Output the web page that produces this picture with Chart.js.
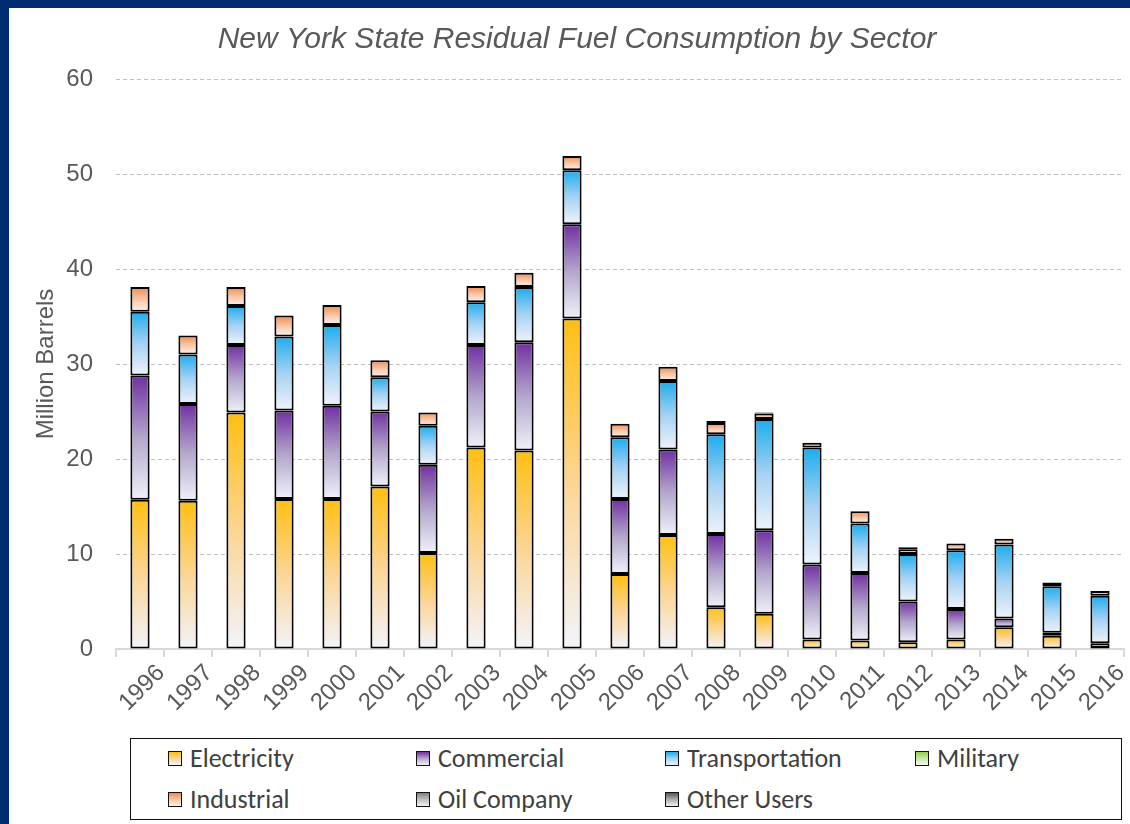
<!DOCTYPE html>
<html>
<head>
<meta charset="utf-8">
<script src="https://cdn.jsdelivr.net/npm/chart.js@4"></script>
<style>
html,body{margin:0;padding:0;}
body{width:1130px;height:824px;background:#002d72;position:relative;overflow:hidden;font-family:"Liberation Sans",Arial,sans-serif;}
#panel{position:absolute;left:9px;top:8px;width:1121px;height:816px;background:#fff;overflow:hidden;}
#wrap{position:absolute;left:0;top:0;width:1121px;height:722px;}
#legend{position:absolute;left:121px;top:730px;width:992px;height:82px;border:1.5px solid #111;box-sizing:border-box;background:#fff;}
.item{position:absolute;height:30px;display:flex;align-items:center;font-size:26px;color:#404040;white-space:nowrap;font-family:"Carlito","Liberation Sans",Arial,sans-serif;}
.sw{width:12px;height:13px;border:1.5px solid #111;margin-right:8px;flex:none;}
</style>
</head>
<body>
<div id="panel">
  <div id="wrap"><canvas id="c" width="1121" height="722"></canvas></div>
  <div id="legend"></div>
</div>
<script>
const years = ["1996","1997","1998","1999","2000","2001","2002","2003","2004","2005","2006","2007","2008","2009","2010","2011","2012","2013","2014","2015","2016"];
const electricity    = [15.7,15.6,24.9,15.8,15.8,17.1,10.1,21.2,20.9,34.8,7.9,12.0,4.4,3.7,1.0,0.9,0.7,1.0,2.3,1.4,0.1];
const commercial     = [13.1,10.2,7.1,9.3,9.8,7.9,9.3,10.8,11.4,9.9,7.9,9.0,7.7,8.8,7.9,7.1,4.3,3.2,0.9,0.3,0.5];
const transportation = [6.7,5.2,4.1,7.8,8.5,3.6,4.1,4.5,5.8,5.7,6.5,7.2,10.5,11.7,12.3,5.2,5.0,6.2,7.8,4.9,5.0];
const military       = [0,0,0,0,0,0,0,0,0,0,0,0,0,0,0,0,0,0,0,0,0];
const industrial     = [2.6,2.0,2.0,2.2,2.1,1.8,1.4,1.7,1.5,1.5,1.4,1.5,1.2,0.6,0.5,1.3,0.5,0.7,0.6,0.4,0.5];
const oilCompany     = [0,0,0,0,0,0,0,0,0,0,0,0,0,0,0,0,0,0,0,0,0];
const otherUsers     = [0,0,0,0,0,0,0,0,0,0,0,0,0.2,0.1,0,0,0.2,0,0,0,0];
const seriesNames = ["Electricity","Commercial","Transportation","Military","Industrial","Oil Company","Other Users"];
const seriesValues = [electricity, commercial, transportation, military, industrial, oilCompany, otherUsers];
const yTicks = [0,10,20,30,40,50,60];

const seriesStops = [
  ["#ffbf10","#fcd595","#f3f4fb"],
  ["#7030a0","#b4a6cc","#eff1f9"],
  ["#1cadec","#a6d2f3","#eef3fb"],
  ["#92d050","#c9e6a8","#f2f8ee"],
  ["#f08a4b","#f7c6a6","#fbf3ef"],
  ["#7f7f7f","#bfbfbf","#f2f2f2"],
  ["#595959","#adadad","#f2f2f2"]
];

function makeFill(dsIndex){
  const stops = seriesStops[dsIndex];
  return function(ctx){
    const chart = ctx.chart;
    if (ctx.type !== 'data' || !chart.scales || !chart.scales.y) return stops[0];
    const i = ctx.dataIndex;
    let base = 0;
    for (let k = 0; k < dsIndex; k++) base += seriesValues[k][i];
    const v = seriesValues[dsIndex][i];
    const ys = chart.scales.y;
    const yTop = ys.getPixelForValue(base + v), yBot = ys.getPixelForValue(base);
    if (!isFinite(yTop) || !isFinite(yBot) || yBot - yTop < 0.5) return stops[0];
    const g = chart.ctx.createLinearGradient(0, yTop, 0, yBot);
    g.addColorStop(0, stops[0]);
    g.addColorStop(0.5, stops[1]);
    g.addColorStop(1, stops[2]);
    return g;
  };
}

const datasets = seriesNames.map((name, k) => ({
  label: name,
  data: seriesValues[k],
  backgroundColor: makeFill(k),
  borderColor: "#000",
  borderWidth: ctx => (ctx.type === 'data' && !seriesValues[k][ctx.dataIndex]) ? 0 : 2,
  borderSkipped: false,
  barPercentage: 0.4,
  categoryPercentage: 1.0
}));

const gray = "#595959";
new Chart(document.getElementById("c"), {
  type: "bar",
  data: { labels: years, datasets: datasets },
  options: {
    responsive: false,
    animation: false,
    devicePixelRatio: 1,
    layout: { padding: { left: 21, right: 6, top: 0, bottom: 0 } },
    plugins: {
      legend: { display: false },
      tooltip: { enabled: false },
      title: {
        display: true,
        text: "New York State Residual Fuel Consumption by Sector",
        color: gray,
        font: { family: "Liberation Sans", size: 30, style: "italic", weight: "normal" },
        padding: { top: 14, bottom: 21 }
      }
    },
    scales: {
      x: {
        stacked: true,
        afterFit: s => { s.height = 81; },
        border: { display: true, color: "#d9d9d9", width: 2 },
        grid: { display: true, drawOnChartArea: false, drawTicks: true, tickLength: 8, color: "#d9d9d9", lineWidth: 2 },
        ticks: { color: gray, font: { family: "Liberation Sans", size: 24 }, minRotation: 45, maxRotation: 45, padding: 2, labelOffset: 21, autoSkip: false }
      },
      y: {
        stacked: true,
        min: 0, max: 60,
        afterFit: s => { s.width = 86; },
        afterBuildTicks: s => { s.ticks = yTicks.map(v => ({ value: v })); },
        border: { display: false, dash: [4, 3] },
        grid: { color: "#bfbfbf", lineWidth: 1, drawTicks: false },
        ticks: { color: gray, font: { family: "Liberation Sans", size: 24 }, padding: 23 },
        title: { display: true, text: "Million Barrels", color: gray, font: { family: "Liberation Sans", size: 24 }, padding: { top: 2, bottom: 0 } }
      }
    }
  }
});

// HTML legend grid
const legend = document.getElementById("legend");
const colLefts = [37, 285, 534, 784];
const rowTops = [4, 45];
seriesNames.forEach((name, k) => {
  const col = k % 4, row = Math.floor(k / 4);
  const it = document.createElement("div");
  it.className = "item";
  it.style.left = colLefts[col] + "px";
  it.style.top = rowTops[row] + "px";
  const sw = document.createElement("span");
  sw.className = "sw";
  const st = seriesStops[k];
  sw.style.background = "linear-gradient(to bottom," + st[0] + "," + st[1] + " 50%," + st[2] + ")";
  it.appendChild(sw);
  it.appendChild(document.createTextNode(name));
  legend.appendChild(it);
});
</script>
</body>
</html>
